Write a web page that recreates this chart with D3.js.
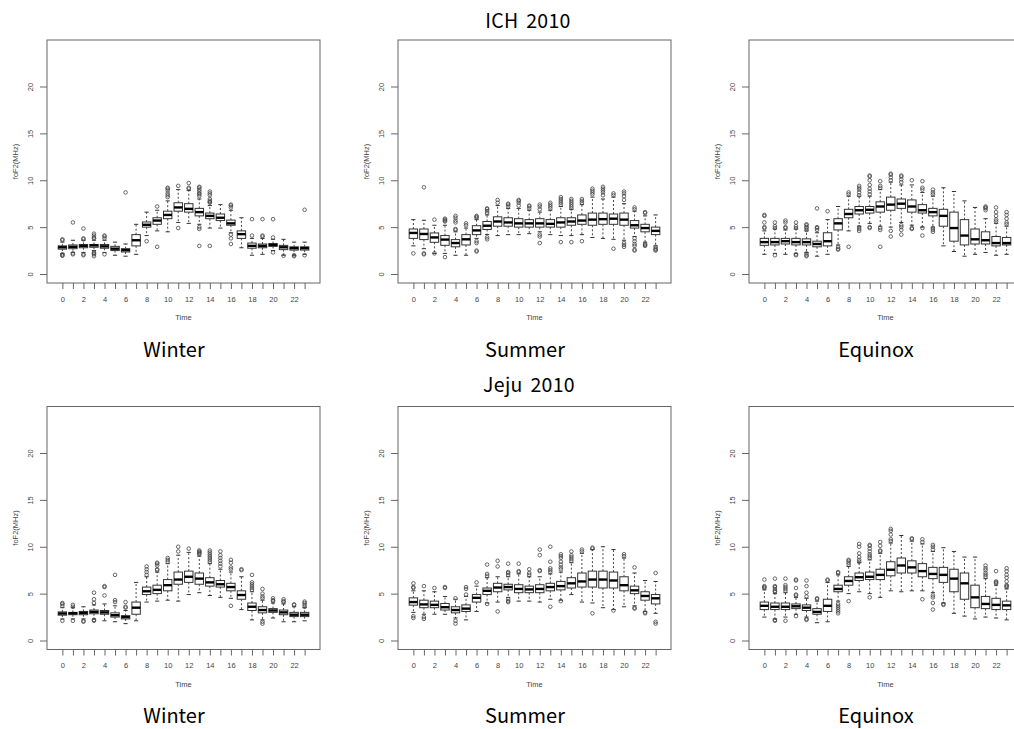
<!DOCTYPE html>
<html><head><meta charset="utf-8">
<script src="https://cdn.jsdelivr.net/npm/d3@7"></script>
<style>body{margin:0;background:#fff;overflow:hidden}</style>
</head><body><svg id="c" width="1014" height="729"></svg>
<script>
// ---------------- DATA ----------------
const hours = [0,1,2,3,4,5,6,7,8,9,10,11,12,13,14,15,16,17,18,19,20,21,22,23];
const xLabelHours = [0,2,4,6,8,10,12,14,16,18,20,22];
const yTicks = [0,5,10,15,20];
const stations = ["ICH 2010", "Jeju 2010"];
const seasons = ["Winter", "Summer", "Equinox"];
const yLabel = "foF2(MHz)";
const xLabel = "Time";

// each row: [lower whisker, Q1, median, Q3, upper whisker]
const ichWinterStats = [
 [2.2,2.65,2.85,3.0,3.4],[2.3,2.7,2.9,3.1,3.6],[2.3,2.8,3.0,3.15,3.6],[2.5,2.85,3.05,3.15,3.6],
 [2.3,2.75,2.95,3.15,3.6],[2.0,2.5,2.7,2.95,3.4],[1.9,2.35,2.55,2.7,3.2],[2.1,3.0,3.6,4.2,5.3],
 [4.1,5.0,5.25,5.55,6.6],[4.6,5.3,5.7,6.0,6.8],[4.5,5.9,6.3,6.7,7.8],[5.5,6.7,7.1,7.6,9.0],
 [5.4,6.6,6.95,7.5,8.9],[5.3,6.2,6.6,7.0,8.0],[4.9,5.9,6.2,6.5,7.3],[4.9,5.7,6.0,6.4,7.4],
 [4.4,5.2,5.4,5.75,6.8],[2.8,3.8,4.25,4.6,6.0],[2.0,2.75,3.0,3.3,3.8],[2.1,2.8,3.0,3.2,3.8],
 [2.5,2.95,3.1,3.25,3.7],[2.0,2.6,2.85,3.05,3.7],[2.0,2.55,2.75,2.9,3.4],[2.1,2.55,2.75,2.9,3.4]
];
const ichWinterOut = [
 [3.6,3.7,2.0,2.1,1.95],[5.5,2.1,2.2],[4.85,3.8,3.7,2.1,2.0],[4.3,4.1,3.9,3.8,2.3,2.2,2.1,1.9],
 [4.1,4.0,3.8,2.1],[],[8.7],[],
 [3.5],[7.2,2.9],[8.2,8.4,8.6,8.9,9.1,9.2],[9.4,4.9],
 [9.1,9.2,9.7],[8.3,8.5,8.6,8.8,9.0,9.2,9.3,5.0,4.8,3.0],[7.6,7.7,7.8,8.0,8.4,8.6,8.8,3.0],[],
 [7.1,7.3,7.4,4.2,3.8,3.2],[],[4.1,5.85],[4.0,4.1,5.85],
 [3.9,2.3,5.85],[1.95],[1.9,2.0],[6.85,2.0]
];
const ichSummerStats = [
 [3.0,3.8,4.38,4.8,5.8],[2.7,3.67,4.27,4.8,5.73],[2.2,3.38,3.9,4.38,5.2],[2.2,3.06,3.67,4.1,5.2],
 [2.0,2.9,3.3,3.67,4.5],[2.0,3.1,3.7,4.2,4.9],[3.8,4.2,4.65,5.15,5.8],[4.2,4.75,5.15,5.6,6.3],
 [4.1,5.1,5.6,6.1,7.3],[4.2,5.1,5.5,6.0,7.0],[4.2,5.0,5.4,5.9,7.0],[4.3,5.0,5.4,5.8,6.8],
 [4.5,5.0,5.4,5.9,6.6],[4.2,5.0,5.35,5.8,6.8],[4.1,5.0,5.5,6.0,7.2],[4.1,5.2,5.6,6.0,6.9],
 [4.2,5.3,5.7,6.3,7.4],[3.9,5.2,5.8,6.5,8.2],[3.8,5.3,5.85,6.5,8.0],[3.7,5.3,5.9,6.4,8.2],
 [3.6,5.2,5.8,6.5,7.5],[4.0,4.9,5.2,5.7,6.7],[3.4,4.5,4.9,5.3,6.2],[3.0,4.2,4.6,5.0,6.3]
];
const ichSummerOut = [
 [2.2],[9.25,2.1,2.2],[5.8,2.2],[5.6,5.7,5.8,5.9,1.8],
 [4.7,4.8,5.5,5.7,6.0,6.2],[5.2,5.4],[6.0,6.1,6.2,3.5,3.3,2.5,2.4],[6.5,6.7,6.9,7.0,3.7,3.9],
 [7.6,7.9],[7.2,7.4,7.5],[7.3,7.6,7.8,7.9],[7.0,7.2,7.3],
 [6.9,7.2,7.4,4.2,4.0,3.3],[7.0,7.2,7.4,7.6],[7.4,7.6,7.8,8.0,8.2,3.4],[7.0,7.2,7.4,7.6,7.8,8.0,3.4],
 [7.6,7.8,8.0,3.5],[8.5,8.7,8.9,9.1],[8.4,8.7,8.9,9.1,9.3],[8.4,8.6,2.7],
 [7.9,8.3,8.6,8.8,3.3,3.1,2.9],[6.9,7.1,3.8,3.5,3.2,3.0,2.6,2.5],[6.5,6.6,3.2,3.1,3.0],[2.9,2.7,2.6,2.5]
];
const ichEquinoxStats = [
 [2.1,3.06,3.4,3.8,4.6],[2.2,3.1,3.4,3.8,4.8],[2.1,3.2,3.5,3.8,4.7],[2.2,3.1,3.4,3.8,4.8],
 [2.3,3.1,3.4,3.75,4.6],[1.9,2.9,3.2,3.5,4.4],[2.1,3.0,3.5,4.4,5.8],[3.1,4.7,5.4,5.9,7.2],
 [4.6,6.0,6.4,6.9,8.3],[5.1,6.4,6.8,7.2,8.3],[5.4,6.5,6.85,7.2,8.3],[5.1,6.6,7.2,7.7,9.0],
 [5.0,6.8,7.4,8.2,9.8],[5.5,7.0,7.5,8.0,9.5],[5.2,6.6,7.2,7.9,9.5],[5.0,6.5,6.8,7.4,8.7],
 [5.0,6.2,6.6,7.0,8.3],[3.0,5.1,6.2,6.9,9.2],[2.4,3.5,4.9,6.6,8.8],[1.9,3.1,4.1,5.8,7.8],
 [2.1,3.2,3.7,4.8,7.1],[2.3,3.2,3.6,4.5,5.9],[2.0,3.0,3.3,4.0,5.4],[2.1,3.1,3.3,3.9,5.1]
];
const ichEquinoxOut = [
 [4.9,5.0,5.5,6.2,6.3],[4.9,5.1,5.5,2.0],[4.9,5.0,5.5,5.7],[4.9,5.1,5.5,2.0,2.1],
 [4.7,4.9,5.0,5.2,5.3,2.2,2.0,1.9],[4.7,4.9,5.0,7.0],[6.7],[2.9,2.7,2.6],
 [8.5,8.7,2.9],[8.4,8.7,9.0,9.2,9.4,4.8,4.6,5.0],[8.5,8.8,9.1,9.5,10.0,10.4,10.5,5.0,4.9],[9.2,9.4,9.9,4.9,4.7,2.9],
 [10.0,10.3,10.6,10.7,4.6,4.0],[9.8,10.1,10.4,10.5,5.2,5.0,4.7,4.2],[10.0,4.9,4.8],[9.0,9.2,9.9,4.9,4.1],
 [8.5,8.7,9.0,4.9,4.7,4.5],[],[],[],
 [],[6.8,7.0,7.1,7.2],[5.6,5.8,6.2,6.6,7.1],[5.3,5.5,5.9,6.3,6.6]
];
const jejuWinterStats = [
 [2.3,2.7,2.88,3.05,3.5],[2.3,2.75,2.9,3.0,3.5],[2.3,2.75,2.95,3.1,3.6],[2.3,2.85,3.05,3.25,3.8],
 [2.1,2.8,3.0,3.2,3.9],[2.0,2.5,2.7,2.95,3.7],[1.8,2.3,2.5,2.65,3.2],[2.1,2.8,3.5,4.1,6.2],
 [4.1,4.9,5.25,5.7,6.8],[4.2,5.0,5.4,5.9,7.3],[4.3,5.3,5.9,6.5,8.2],[4.2,6.0,6.5,7.3,9.1],
 [4.9,6.2,6.8,7.4,9.4],[5.1,6.0,6.6,7.2,9.0],[4.8,5.8,6.2,6.7,8.2],[4.6,5.7,6.0,6.4,7.6],
 [4.5,5.3,5.7,6.1,7.3],[3.3,4.4,4.85,5.3,6.8],[2.2,3.2,3.6,4.0,5.2],[2.2,2.95,3.25,3.6,4.3],
 [2.4,3.0,3.2,3.4,4.0],[2.0,2.75,3.0,3.25,3.9],[2.0,2.55,2.75,3.0,3.6],[2.1,2.55,2.75,3.0,3.5]
];
const jejuWinterOut = [
 [3.7,3.9,4.0,2.1],[3.6,3.8,2.1],[2.1,2.0],[4.0,4.4,5.1,2.1,2.2],
 [4.8,5.7,5.8],[4.1,4.3,7.0],[3.5,3.6,4.1],[],
 [7.0,7.3,7.6,7.9],[7.5,7.6,8.0,8.2,8.3],[8.4,8.6,8.8],[9.5,10.0],
 [9.8],[9.2,9.3,9.4,9.5,9.6],[8.4,8.6,8.8,9.0,9.2,9.4,9.6],[7.9,8.2,8.5,8.8,9.1,9.5],
 [7.6,7.8,8.3,8.6,3.7],[7.5,7.6],[5.4,5.6,5.8,6.0,6.2,7.0],[4.5,4.7,5.0,5.5,2.0,1.8],
 [4.2,4.3,4.5],[4.1,4.2,4.4],[3.8,3.85],[3.6,3.8,4.0,4.15]
];
const jejuSummerStats = [
 [3.0,3.77,4.1,4.55,5.3],[2.8,3.5,3.85,4.3,5.3],[2.8,3.5,3.8,4.2,5.2],[2.8,3.25,3.55,3.95,4.7],
 [2.4,2.95,3.25,3.6,4.4],[2.2,3.1,3.4,3.8,4.7],[3.1,4.1,4.55,4.9,5.8],[4.0,4.9,5.3,5.6,6.7],
 [4.1,5.2,5.65,6.1,6.8],[4.6,5.4,5.7,6.0,6.8],[4.2,5.1,5.5,5.95,7.1],[4.2,5.1,5.45,5.8,6.8],
 [4.1,5.1,5.5,5.95,6.8],[4.4,5.3,5.7,6.1,7.1],[4.3,5.4,5.8,6.3,7.3],[4.9,5.6,6.1,6.7,8.3],
 [4.1,5.7,6.3,7.2,9.3],[4.0,5.7,6.5,7.4,9.7],[3.5,5.6,6.5,7.4,10.0],[3.3,5.6,6.4,7.3,9.7],
 [3.6,5.3,5.9,6.8,8.8],[3.7,5.0,5.35,5.8,7.2],[3.1,4.3,4.75,5.2,6.4],[2.9,3.9,4.5,4.9,6.3]
];
const jejuSummerOut = [
 [5.6,5.7,6.1,2.6,2.4],[5.8,2.5,2.3],[5.6],[5.6,5.7],
 [4.5,2.1,1.8],[4.9,5.5,5.7],[6.2],[6.9,7.1,8.1,3.9],
 [7.9,8.5,3.1],[7.0,7.2,7.3,8.2,4.4,4.2,4.1],[7.3,7.4,8.2],[7.0,7.2,7.6],
 [7.4,7.5,9.1,9.7],[7.3,7.5,7.7,8.4,10.0,3.6],[7.6,7.8,8.1,8.4,8.8,9.0,9.2,4.2],[8.5,8.7,8.9,9.1,9.5],
 [9.5,9.7],[9.8,9.9,2.9],[],[3.2],
 [9.0,9.2],[7.8,3.5,3.4],[3.0,2.9],[7.2,2.0,1.8]
];
const jejuEquinoxStats = [
 [2.5,3.3,3.7,4.1,5.4],[2.3,3.3,3.6,4.0,5.0],[2.5,3.3,3.6,4.0,5.1],[2.8,3.4,3.65,3.9,4.6],
 [2.5,3.2,3.5,3.8,4.5],[1.9,2.8,3.05,3.4,4.2],[2.0,3.1,3.7,4.4,6.2],[4.2,5.2,5.5,5.9,7.0],
 [5.0,5.9,6.35,6.8,7.9],[5.2,6.4,6.75,7.2,8.3],[5.0,6.5,6.8,7.3,8.6],[4.6,6.5,7.0,7.6,9.3],
 [5.3,6.9,7.55,8.4,10.4],[5.2,7.2,8.0,8.8,11.2],[5.3,7.2,7.8,8.5,10.6],[5.3,6.8,7.4,8.2,10.3],
 [5.1,6.6,7.1,7.8,9.5],[4.0,6.2,7.0,7.8,9.9],[2.9,5.2,6.6,7.6,9.5],[2.6,4.4,6.1,7.2,8.9],
 [2.3,3.5,4.6,5.9,8.9],[2.5,3.4,3.9,4.7,6.6],[2.4,3.3,3.8,4.5,5.9],[2.2,3.3,3.75,4.2,5.5]
];
const jejuEquinoxOut = [
 [5.6,5.7,5.8,6.5],[5.2,5.3,5.5,5.7,5.8,6.6,2.2,2.1],[5.3,5.5,5.7,5.9,6.6,2.1],[4.8,4.9,5.6,6.4,6.5,2.6],
 [4.7,5.1,5.8,6.4,2.3,2.2],[4.4,4.5],[6.4,6.5],[7.2,7.3,3.9,3.7,3.5,3.3,3.1,2.9],
 [8.1,8.3,8.5,8.6,4.2],[8.4,8.6,8.9,9.3,10.0,10.3],[8.8,9.0,9.2,9.5,9.8,10.1,10.2,4.6],[9.5,9.6,10.1,10.5],
 [10.6,10.8,11.3,11.7,11.9],[],[10.8,10.9],[10.5,10.8,4.4],
 [9.7,10.0,10.2,4.8,4.6,4.0,3.3],[3.9,3.8],[],[],
 [],[6.8,7.0,7.2,7.5,7.7,8.0],[6.1,6.2,6.3,7.4],[5.7,5.8,5.9,6.3,6.7,7.0,7.4,7.7]
];

const panels = [
 [ichWinterStats, ichWinterOut], [ichSummerStats, ichSummerOut], [ichEquinoxStats, ichEquinoxOut],
 [jejuWinterStats, jejuWinterOut], [jejuSummerStats, jejuSummerOut], [jejuEquinoxStats, jejuEquinoxOut]
];

// ---------------- LAYOUT ----------------
const svg = d3.select("#c");
const colLeft = [47, 398, 749];
const rowTop = [40, 406.5];
const PW = 273, PH = 243;
const titleX = [528, 529], titleY = [28, 392];
const seasonX = [174, 525, 876], seasonY = [357, 723];
const axisFont = "'Liberation Sans', Arial, sans-serif";
const bigFont = "'Noto Sans CJK KR', 'Noto Sans', sans-serif";

stations.forEach((s, r) => {
  svg.append("text").attr("x", titleX[r]).attr("y", titleY[r])
    .attr("text-anchor", "middle").attr("font-family", bigFont)
    .attr("font-size", 19.5).attr("word-spacing", 3).attr("letter-spacing", 0.3)
    .attr("fill", "#000").text(s);
  seasons.forEach((se, c) => {
    svg.append("text").attr("x", seasonX[c]).attr("y", seasonY[r])
      .attr("text-anchor", "middle").attr("font-family", bigFont)
      .attr("font-size", 20).attr("fill", "#000").text(se);
  });
});

function drawPanel(idx) {
  const r = Math.floor(idx / 3), c = idx % 3;
  const x0 = colLeft[c], y0 = rowTop[r];
  const [stats, outs] = panels[idx];
  const g = svg.append("g");
  const x = d3.scaleLinear().domain([-1.46, 24.46]).range([x0, x0 + PW]);
  const y = d3.scaleLinear().domain([-0.96, 24.96]).range([y0 + PH, y0]);
  const step = x(1) - x(0);
  const bw = step * 0.8;
  const sw = bw * 0.5;

  // axes
  const ya = g.append("g").attr("transform", `translate(${x0},0)`)
    .call(d3.axisLeft(y).tickValues(yTicks).tickSize(7).tickFormat(d3.format("d")));
  ya.select(".domain").remove();
  ya.selectAll("line").attr("stroke", "#555").attr("stroke-width", 0.9);
  ya.selectAll("text").attr("x", null).attr("dy", null).attr("text-anchor", "middle")
    .attr("transform", "translate(-14,0) rotate(-90)")
    .attr("font-family", axisFont).attr("font-size", 7.5).attr("fill", "#444");

  const xa = g.append("g").attr("transform", `translate(0,${y0 + PH})`)
    .call(d3.axisBottom(x).tickValues(hours).tickSize(6)
      .tickFormat(d => xLabelHours.includes(d) ? String(d) : ""));
  xa.select(".domain").remove();
  xa.selectAll("line").attr("stroke", "#555").attr("stroke-width", 0.9);
  xa.selectAll("text").attr("y", 18.5).attr("dy", null)
    .attr("font-family", axisFont).attr("font-size", 7.5).attr("fill", "#444");

  // frame
  g.append("rect").attr("x", x0).attr("y", y0).attr("width", PW).attr("height", PH)
    .attr("fill", "none").attr("stroke", "#666").attr("stroke-width", 1);

  // axis titles
  g.append("text").attr("x", x0 + PW / 2).attr("y", y0 + PH + 37)
    .attr("text-anchor", "middle").attr("font-family", axisFont)
    .attr("font-size", 7.5).attr("fill", "#444").text(xLabel);
  g.append("text").attr("transform", `translate(${x0 - 29},${y0 + PH / 2}) rotate(-90)`)
    .attr("text-anchor", "middle").attr("font-family", axisFont)
    .attr("font-size", 7.5).attr("fill", "#444").text(yLabel);

  // boxes
  const bg = g.selectAll("g.box").data(hours).join("g").attr("class", "box");
  bg.append("line").attr("x1", h => x(h)).attr("x2", h => x(h))
    .attr("y1", h => y(stats[h][3])).attr("y2", h => y(stats[h][4]))
    .attr("stroke", "#333").attr("stroke-width", 0.9).attr("stroke-dasharray", "2,2");
  bg.append("line").attr("x1", h => x(h)).attr("x2", h => x(h))
    .attr("y1", h => y(stats[h][1])).attr("y2", h => y(stats[h][0]))
    .attr("stroke", "#333").attr("stroke-width", 0.9).attr("stroke-dasharray", "2,2");
  bg.append("line").attr("x1", h => x(h) - sw / 2).attr("x2", h => x(h) + sw / 2)
    .attr("y1", h => y(stats[h][4])).attr("y2", h => y(stats[h][4]))
    .attr("stroke", "#333").attr("stroke-width", 1);
  bg.append("line").attr("x1", h => x(h) - sw / 2).attr("x2", h => x(h) + sw / 2)
    .attr("y1", h => y(stats[h][0])).attr("y2", h => y(stats[h][0]))
    .attr("stroke", "#333").attr("stroke-width", 1);
  bg.append("rect").attr("x", h => x(h) - bw / 2).attr("width", bw)
    .attr("y", h => y(stats[h][3])).attr("height", h => y(stats[h][1]) - y(stats[h][3]))
    .attr("fill", "#fff").attr("stroke", "#333").attr("stroke-width", 1);
  bg.append("line").attr("x1", h => x(h) - bw / 2).attr("x2", h => x(h) + bw / 2)
    .attr("y1", h => y(stats[h][2])).attr("y2", h => y(stats[h][2]))
    .attr("stroke", "#000").attr("stroke-width", 2.4);
  bg.each(function(h) {
    d3.select(this).selectAll("circle").data(outs[h]).join("circle")
      .attr("cx", x(h)).attr("cy", v => y(v)).attr("r", 1.8)
      .attr("fill", "none").attr("stroke", "#444").attr("stroke-width", 0.8);
  });
}
for (let i = 0; i < 6; i++) drawPanel(i);
</script>
</body></html>
